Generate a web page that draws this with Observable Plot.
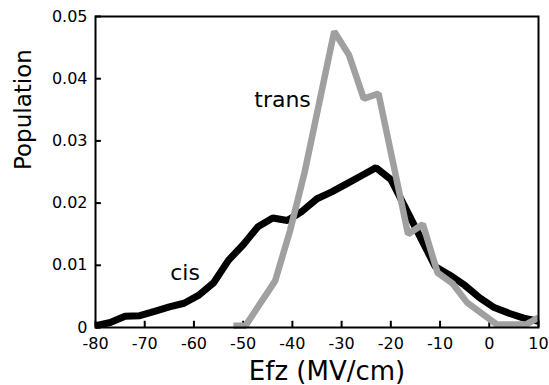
<!DOCTYPE html>
<html>
<head>
<meta charset="utf-8">
<script src="https://cdn.jsdelivr.net/npm/d3@7"></script>
<script src="https://cdn.jsdelivr.net/npm/@observablehq/plot@0.6"></script>
<style>
  body { margin: 0; background: #fff; }
  svg { display: block; }
</style>
</head>
<body>
<div id="chart"></div>
<script>
// cis (black) series
const cisX = [-80,-77,-74,-71,-68,-65,-62,-59,-56,-53,-50,-47,-44,-41,-38,-35,-32,-29,-26,-23,-20,-17,-14,-11,-8,-5,-2,1,4,7,10];
const cisY = [0.0003,0.0008,0.0018,0.0019,0.0026,0.0033,0.0039,0.0052,0.0072,0.0108,0.0133,0.0162,0.0176,0.0172,0.0187,0.0207,0.0218,0.0231,0.0244,0.0257,0.0238,0.0192,0.0145,0.0098,0.0084,0.0068,0.0048,0.0032,0.0023,0.0015,0.0010];
// trans (gray) series
const transX = [-52,-49.5,-43.5,-40.5,-37.5,-31.5,-28.5,-25.5,-22.5,-16.5,-13.5,-10.5,-7.5,-4.5,1.5,7.5,10];
const transY = [0.0003,0.0003,0.0075,0.0155,0.0250,0.0476,0.0438,0.0368,0.0376,0.0150,0.0166,0.0088,0.0071,0.0040,0.0005,0.0005,0.0016];
// ticks
const xTicks = [-80,-70,-60,-50,-40,-30,-20,-10,0,10];
const xTickLabels = ["-80","-70","-60","-50","-40","-30","-20","-10","0","10"];
const yTicks = [0,0.01,0.02,0.03,0.04,0.05];
const yTickLabels = ["0","0.01","0.02","0.03","0.04","0.05"];
// labels
const xLabel = "Efz (MV/cm)";
const yLabel = "Population";
const seriesLabels = [
  {name: "cis", x: -61.8, y: 0.0088},
  {name: "trans", x: -42.0, y: 0.0366}
];

const cis = cisX.map((x, i) => ({x, y: cisY[i]}));
const trans = transX.map((x, i) => ({x, y: transY[i]}));

const plot = Plot.plot({
  width: 549,
  height: 385,
  marginLeft: 95,
  marginRight: 11,
  marginTop: 16,
  marginBottom: 58,
  style: {fontFamily: "DejaVu Sans", background: "#fff", color: "#000"},
  x: {domain: [-80, 10]},
  y: {domain: [0, 0.05]},
  marks: [
    Plot.axisX({ticks: xTicks, tickSize: 0, tickPadding: 10, fontSize: 16,
      tickFormat: d => xTickLabels[xTicks.indexOf(d)], label: null}),
    Plot.axisY({ticks: yTicks, tickSize: 0, tickPadding: 8, fontSize: 16,
      tickFormat: d => yTickLabels[yTicks.indexOf(d)], label: null}),
    Plot.ruleX(xTicks, {x: d => d, y1: 0, y2: 0.001, stroke: "black", strokeWidth: 2}),
    Plot.ruleY(yTicks, {y: d => d, x1: -80, x2: -78.8, stroke: "black", strokeWidth: 2}),
    Plot.line(cis, {x: "x", y: "y", stroke: "black", strokeWidth: 7, strokeLinejoin: "miter", strokeLinecap: "butt"}),
    Plot.line(trans, {x: "x", y: "y", stroke: "#a0a0a0", strokeWidth: 6.5, strokeLinejoin: "miter", strokeLinecap: "butt"}),
    Plot.text(seriesLabels, {x: "x", y: "y", text: "name", fontSize: 22, fill: "black"}),
    Plot.text([xLabel], {frameAnchor: "bottom", dx: 10, dy: 52, lineAnchor: "bottom", fontSize: 26, fill: "black"}),
    Plot.text([yLabel], {frameAnchor: "left", dx: -72, dy: -2, rotate: -90, fontSize: 23, fill: "black"}),
    Plot.frame({stroke: "black", strokeWidth: 2})
  ]
});
document.getElementById("chart").appendChild(plot);
</script>
</body>
</html>
